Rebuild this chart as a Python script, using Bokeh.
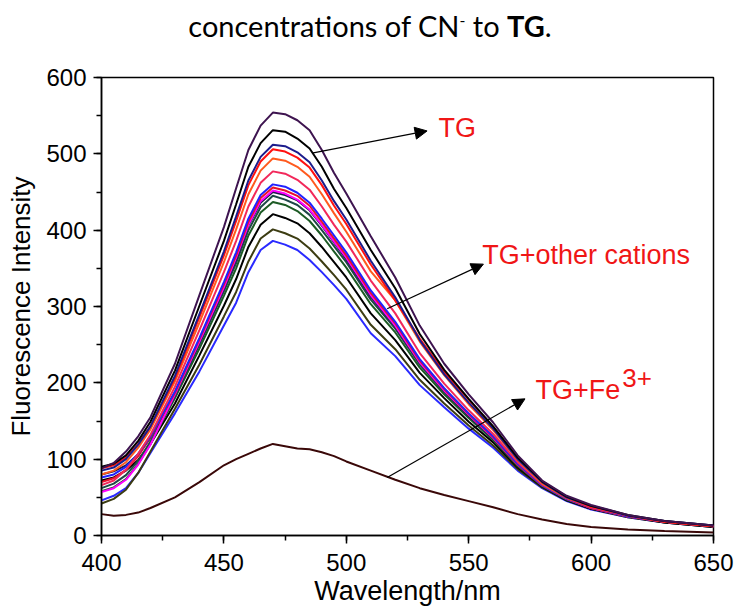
from bokeh.plotting import figure
from bokeh.models import Range1d, SingleIntervalTicker, Label, Arrow, NormalHead, Div
from bokeh.layouts import column
from bokeh.embed import file_html
from bokeh.resources import INLINE

# ---------------- data ----------------
wl = [400, 405, 410, 415, 420, 430, 440, 450, 455, 460, 465, 470, 475, 480, 485,
      490, 495, 500, 510, 520, 530, 540, 550, 560, 570, 580, 590, 600, 615, 630, 650]

tg_purple = [88, 95, 110, 130, 155, 225, 315, 404, 455, 505, 537, 554, 552, 544, 531,
             505, 475, 448, 392, 338, 275, 225, 185, 148, 105, 72, 52, 40, 27, 19, 13]
s_black1 = [90, 94, 105, 124, 149, 216, 301, 386, 434, 483, 514, 531, 529, 520, 507,
            483, 454, 429, 374, 324, 264, 217, 179, 143, 102, 71, 51, 39, 27, 19, 13]
s_navy = [85, 89, 100, 119, 143, 209, 290, 372, 418, 465, 496, 512, 510, 502, 489,
          465, 438, 414, 360, 312, 256, 211, 174, 140, 100, 70, 50, 39, 26, 19, 13]
s_red1 = [88, 92, 102, 120, 143, 206, 286, 367, 412, 459, 490, 506, 503, 495, 482,
          459, 432, 408, 355, 308, 258, 214, 178, 142, 101, 70, 50, 38, 26, 18, 12]
s_orange = [80, 85, 96, 115, 139, 202, 279, 358, 401, 447, 478, 494, 491, 483, 470,
            447, 422, 398, 346, 308, 254, 210, 172, 138, 99, 68, 49, 38, 26, 18, 12]
s_crimson = [66, 72, 86, 107, 132, 195, 269, 345, 386, 431, 462, 477, 474, 466, 453,
             431, 407, 385, 334, 291, 239, 199, 164, 133, 96, 67, 49, 37, 26, 18, 12]
s_blue1 = [76, 80, 90, 107, 130, 189, 259, 332, 371, 415, 446, 460, 457, 449, 436,
           415, 393, 371, 321, 280, 231, 193, 160, 130, 94, 66, 48, 37, 25, 18, 12]
s_red2 = [70, 75, 86, 104, 129, 187, 257, 329, 367, 411, 442, 456, 452, 445, 432,
          411, 389, 367, 318, 278, 229, 192, 159, 129, 93, 66, 48, 36, 25, 18, 12]
s_magenta = [57, 62, 73, 93, 119, 185, 254, 325, 364, 407, 438, 452, 448, 440, 427,
             407, 385, 364, 315, 275, 227, 190, 158, 128, 93, 66, 48, 36, 25, 18, 12]
s_darknavy = [80, 84, 92, 106, 128, 185, 253, 324, 362, 406, 436, 450, 446, 439, 426,
              406, 384, 362, 313, 274, 227, 190, 157, 128, 93, 66, 48, 36, 25, 18, 12]
s_teal = [62, 68, 79, 98, 123, 182, 250, 320, 357, 400, 430, 445, 440, 433, 420,
          400, 379, 358, 309, 271, 224, 188, 156, 126, 92, 65, 47, 36, 25, 18, 12]
s_green = [58, 63, 74, 94, 120, 180, 245, 314, 350, 393, 423, 437, 433, 425, 412,
           393, 372, 351, 303, 266, 220, 185, 154, 125, 91, 65, 47, 36, 25, 18, 12]
s_black2 = [72, 76, 85, 99, 120, 173, 236, 301, 336, 378, 407, 421, 416, 409, 396,
            378, 358, 338, 291, 256, 213, 180, 149, 122, 89, 64, 46, 35, 25, 17, 11]
s_olive = [42, 48, 60, 82, 110, 166, 224, 287, 319, 359, 389, 401, 396, 389, 376,
           359, 341, 322, 276, 244, 204, 173, 144, 118, 87, 63, 46, 35, 24, 17, 11]
s_blue2 = [46, 52, 62, 82, 108, 160, 215, 275, 305, 345, 374, 386, 381, 374, 361,
           345, 328, 310, 265, 235, 197, 168, 140, 115, 85, 62, 45, 34, 24, 17, 11]
tg_fe = [28, 26, 27, 30, 36, 50, 70, 92, 100, 107, 114, 120, 117, 114, 113,
         109, 104, 97, 85, 73, 62, 53, 45, 37, 28, 21, 15, 11, 8, 6, 4]

series = [
    (s_blue2, "#2a2aff"),
    (s_olive, "#3c3c12"),
    (s_black2, "#000000"),
    (s_green, "#1c5a24"),
    (s_teal, "#1f4848"),
    (s_darknavy, "#1a1a48"),
    (s_magenta, "#ff00ff"),
    (s_red2, "#e8102a"),
    (s_blue1, "#2020ff"),
    (s_crimson, "#f2285a"),
    (s_orange, "#ff5a1e"),
    (s_red1, "#ff1010"),
    (s_navy, "#1c1c8c"),
    (s_black1, "#000000"),
    (tg_purple, "#3e1450"),
    (tg_fe, "#3a0808"),
]

RED = "#f01616"
FONT = "Liberation Sans"
CAP_H = 60

caption = Div(
    text=('<div style="width:740px;text-align:center;font-family:Lato;'
          'font-size:29px;line-height:35px;padding-top:%dpx;color:#000;">'
          'concentrations of CN<sup style="font-size:55%%;">-</sup> to <b>TG</b>.</div>')
    % 2,
    width=740, height=CAP_H, margin=0)

p = figure(width=740, height=610 - CAP_H, output_backend="svg", toolbar_location=None,
           x_range=Range1d(400, 650), y_range=Range1d(0, 600),
           min_border_left=101, min_border_right=27, min_border_top=77 - CAP_H,
           min_border_bottom=75, margin=0)
p.background_fill_color = "white"
p.border_fill_color = "white"
p.outline_line_color = "black"
p.outline_line_width = 1.5
p.outline_line_alpha = 1.0
p.xgrid.visible = False
p.ygrid.visible = False

for ys, col in series:
    p.line(wl, ys, line_color=col, line_width=2)

p.xaxis.ticker = SingleIntervalTicker(interval=50, num_minor_ticks=2)
p.yaxis.ticker = SingleIntervalTicker(interval=100, num_minor_ticks=2)
for ax in (p.xaxis[0], p.yaxis[0]):
    ax.axis_line_width = 1.5
    ax.axis_line_color = "black"
    ax.major_tick_line_width = 1.5
    ax.minor_tick_line_width = 1.5
    ax.major_tick_line_color = "black"
    ax.minor_tick_line_color = "black"
    ax.major_tick_in = 0
    ax.major_tick_out = 8
    ax.minor_tick_in = 0
    ax.minor_tick_out = 5
    ax.major_label_text_font = FONT
    ax.major_label_text_font_size = "24px"
    ax.major_label_text_color = "black"
    ax.axis_label_text_font = FONT
    ax.axis_label_text_font_style = "normal"
    ax.axis_label_text_color = "black"
p.xaxis.axis_label = "Wavelength/nm"
p.yaxis.axis_label = "Fluorescence Intensity"
p.xaxis.axis_label_text_font_size = "27px"
p.yaxis.axis_label_text_font_size = "26px"
p.xaxis.major_label_standoff = 10
p.yaxis.major_label_standoff = 7
p.xaxis.axis_label_standoff = 2
p.yaxis.axis_label_standoff = 7

# annotations
def lab(x, y, t, size="27px"):
    p.add_layout(Label(x=x, y=y, text=t, text_color=RED, text_font=FONT,
                       text_font_size=size, text_baseline="middle"))

def arrow(x0, y0, x1, y1):
    p.add_layout(Arrow(end=NormalHead(size=12, fill_color="black", line_color="black",
                                      line_width=1),
                       x_start=x0, y_start=y0, x_end=x1, y_end=y1,
                       line_color="black", line_width=1.2))

arrow(486, 501, 533, 530)
lab(537.7, 534, "TG")
arrow(516.7, 297, 556, 355.5)
lab(555.5, 368, "TG+other cations")
arrow(516.7, 76, 573, 179)
lab(577.3, 190.7, "TG+Fe")
lab(612.7, 206, "3+", size="26px")

layout = column(caption, p, spacing=0)
open("out.html", "w").write(file_html(layout, INLINE))
